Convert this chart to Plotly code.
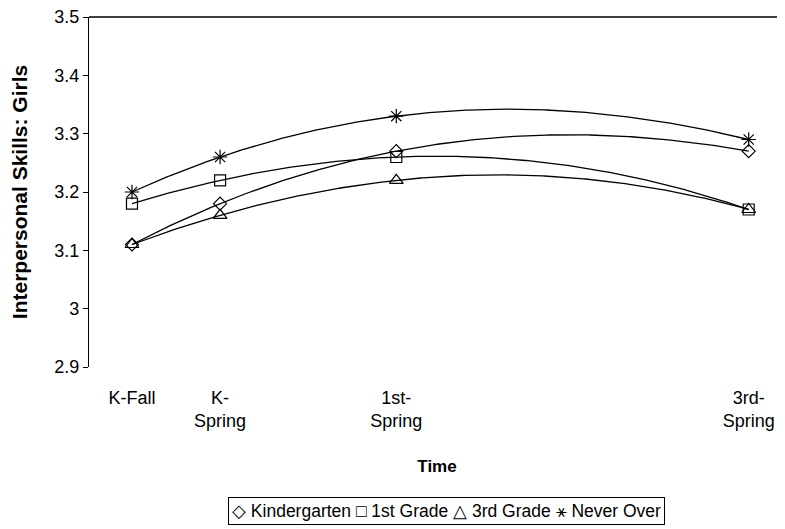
import numpy as np
import plotly.graph_objects as go

# ---- data ----
time_labels = ["K-Fall", "K-<br>Spring", "1st-<br>Spring", "3rd-<br>Spring"]
time_pos = [1, 2, 4, 8]          # position of each wave on the category scale
category_ticks = [0.5, 1.5, 2.5, 3.5, 4.5, 5.5, 6.5, 7.5]

kindergarten = [3.11, 3.18, 3.27, 3.27]
first_grade = [3.18, 3.22, 3.26, 3.17]
third_grade = [3.11, 3.16, 3.22, 3.17]
never_over = [3.20, 3.26, 3.33, 3.29]

y_ticks = [2.9, 3.0, 3.1, 3.2, 3.3, 3.4, 3.5]
y_tick_text = ["2.9", "3", "3.1", "3.2", "3.3", "3.4", "3.5"]

series_names = ["Kindergarten", "1st Grade", "3rd Grade", "Never Over"]
legend_glyphs = ["◇", "□", "△", "⚹"]
series = [
    (series_names[0], kindergarten, "diamond-open", 10),
    (series_names[1], first_grade, "square-open", 11),
    (series_names[2], third_grade, "triangle-up-open", 12),
    (series_names[3], never_over, "asterisk-open", 12),
]

FONT = "Liberation Sans, Arial, sans-serif"
fig = go.Figure()

# polynomial (order 3) trendlines, as in the original chart
xs = np.linspace(min(time_pos), max(time_pos), 300)
for name, vals, sym, size in series:
    coef = np.polyfit(time_pos, vals, 3)
    fig.add_trace(go.Scatter(
        x=xs, y=np.polyval(coef, xs), mode="lines",
        line=dict(color="black", width=1.3), showlegend=False,
        hoverinfo="skip", xaxis="x2"))

for name, vals, sym, size in series:
    fig.add_trace(go.Scatter(
        x=time_pos, y=vals, mode="markers", name=name, xaxis="x2",
        showlegend=False,
        marker=dict(symbol=sym, size=size, color="black",
                    line=dict(color="black", width=1.2))))

legend_text = " ".join(f"{g} {n}" for g, n in zip(legend_glyphs, series_names))

xr = [0.512, 8.412]
fig.update_layout(
    width=785, height=529,
    margin=dict(l=81, r=8, t=9, b=170),
    paper_bgcolor="white", plot_bgcolor="white",
    font=dict(family=FONT, size=18, color="black"),
    showlegend=False,
    xaxis=dict(range=xr, tickvals=category_ticks, showticklabels=False,
               ticks="outside", ticklen=6, tickcolor="black", tickwidth=1,
               showline=True, linecolor="black", linewidth=1.3,
               mirror=True, showgrid=False, zeroline=False,
               automargin=False),
    xaxis2=dict(range=xr, overlaying="x", anchor="y", side="bottom",
                tickvals=time_pos, ticktext=time_labels, ticks="",
                ticklabelstandoff=18, showline=False, showgrid=False,
                zeroline=False, automargin=False, ticklabeloverflow="allow",
                tickfont=dict(family=FONT, size=18),
                title=dict(text="<b>Time</b>", standoff=29,
                           font=dict(family=FONT, size=17))),
    yaxis=dict(range=[2.9, 3.5], tickvals=y_ticks, ticktext=y_tick_text,
               ticks="outside", ticklen=5, tickcolor="black",
               showline=True, linecolor="black", linewidth=1.3,
               showgrid=False, zeroline=False, automargin=False,
               ticklabeloverflow="allow",
               tickfont=dict(family=FONT, size=18),
               title=dict(text="<b>Interpersonal Skills: Girls</b>",
                          standoff=20, font=dict(family=FONT, size=21))),
    shapes=[dict(type="line", xref="paper", yref="paper",
                 x0=0, x1=1, y0=1, y1=1,
                 line=dict(color="black", width=1.3))],
    annotations=[dict(
        text=legend_text, xref="paper", yref="paper",
        x=0.513, y=-0.41, xanchor="center", yanchor="middle",
        showarrow=False, font=dict(family=FONT, size=17.5),
        bordercolor="black", borderwidth=1, borderpad=3,
        bgcolor="white")],
)

fig.write_html("out.html")
